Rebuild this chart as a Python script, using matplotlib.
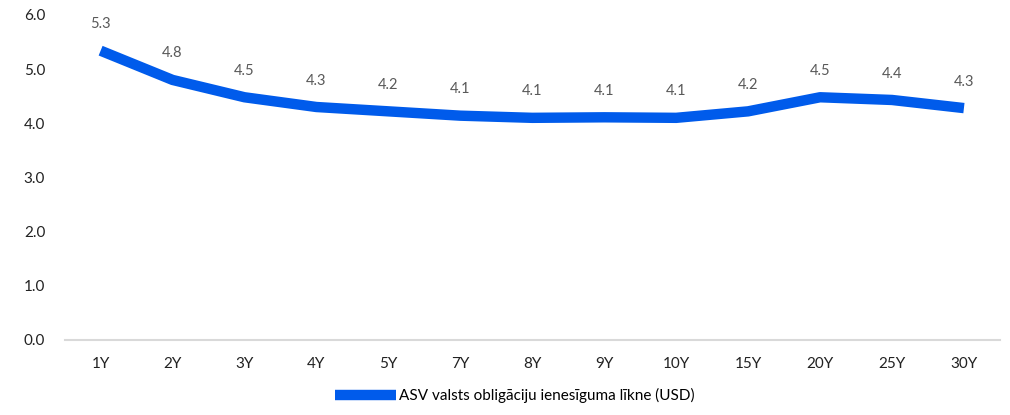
import matplotlib.pyplot as plt

tenors = ['1Y', '2Y', '3Y', '4Y', '5Y', '7Y', '8Y', '9Y', '10Y', '15Y', '20Y', '25Y', '30Y']
yields = [5.34, 4.80, 4.48, 4.30, 4.22, 4.14, 4.10, 4.11, 4.10, 4.22, 4.48, 4.43, 4.28]

plt.rcParams['font.family'] = ['Lato', 'DejaVu Sans']

fig = plt.figure(figsize=(10.1, 4.15), dpi=100)
ax = fig.add_axes([0.064, 0.181, 0.926, 0.783])

x = list(range(len(tenors)))
ax.plot(x, yields, color='#005BEB', linewidth=7.5, solid_joinstyle='round',
        solid_capstyle='butt', label='ASV valsts obligāciju ienesīguma līkne (USD)')

for xi, v in zip(x, yields):
    ax.annotate(f'{v:.1f}', (xi, v), xytext=(0, 14), textcoords='offset points',
                ha='center', va='bottom', fontsize=10.5, color='#595959')

ax.set_xlim(-0.5, len(tenors) - 0.5)
ax.set_ylim(0, 6)
ax.set_yticks([0, 1, 2, 3, 4, 5, 6])
ax.set_yticklabels([f'{t:.1f}' for t in range(7)])
ax.set_xticks(x)
ax.set_xticklabels(tenors)
ax.tick_params(axis='both', length=0, labelsize=11, colors='#222222')
ax.tick_params(axis='x', pad=12)
ax.tick_params(axis='y', pad=14)

for side in ['top', 'right', 'left']:
    ax.spines[side].set_visible(False)
ax.spines['bottom'].set_color('#d9d9d9')
ax.spines['bottom'].set_linewidth(1.5)

fig.legend(loc='lower center', bbox_to_anchor=(0.51, -0.005), frameon=False,
           fontsize=11, handlelength=4.0, handletextpad=0.2)

fig.savefig('out.png', dpi=100)
